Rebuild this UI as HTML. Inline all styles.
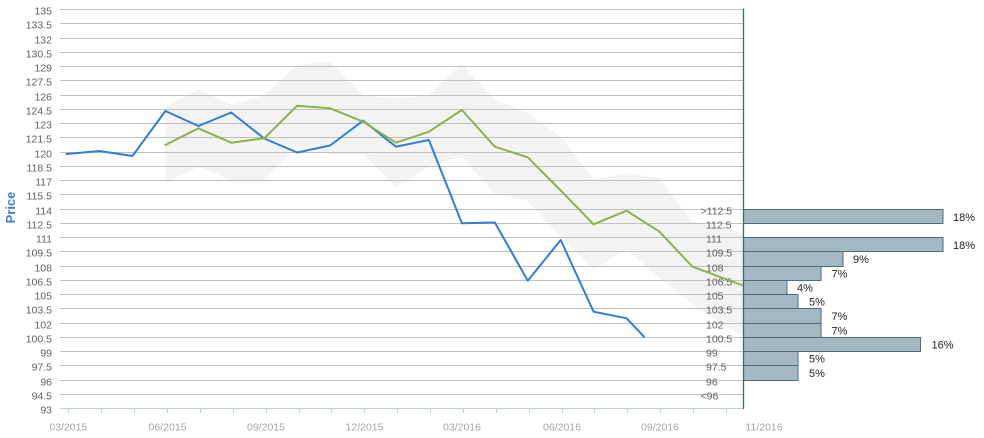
<!DOCTYPE html>
<html><head><meta charset="utf-8">
<style>
html,body{margin:0;padding:0;background:#fff;}
svg{display:block;}
text{font-family:"Liberation Sans",Arial,sans-serif;}
.yl{font-size:10.5px;fill:#606060;text-anchor:end;}
.hl{font-size:10.5px;fill:#606060;}
.xl{font-size:10.5px;fill:#a4a4a4;text-anchor:middle;}
.pl{font-family:"DejaVu Sans",Verdana,sans-serif;font-size:11px;fill:#222;}
</style></head>
<body>
<svg width="984" height="438" viewBox="0 0 984 438" xmlns="http://www.w3.org/2000/svg">
<rect x="0" y="0" width="984" height="438" fill="#fff"/>
<!-- band -->
<polygon fill="#f3f3f3" points="165.4,106.7 198.4,89.3 231.3,105 264.2,95 297.2,65 330.1,61.7 363.1,95 396,98.3 428.9,95 461.9,64 494.8,99.3 527.8,113.3 560.7,136.7 593.6,179.3 626.6,173.3 659.5,178.3 692.5,222 725.4,228.5 743,233 743,336 725.4,326 692.5,304 659.5,278 626.6,249.5 593.6,269.5 560.7,238 527.8,201 494.8,194 461.9,156.7 428.9,166.7 396,186.7 363.1,154 330.1,154 297.2,146.7 264.2,180.7 231.3,180.7 198.4,166.7 165.4,182.7"/>
<!-- gridlines -->
<g stroke="#c0c0c0" stroke-width="1">
<line x1="60" x2="743" y1="9.5" y2="9.5"/>
<line x1="60" x2="743" y1="23.5" y2="23.5"/>
<line x1="60" x2="743" y1="38.5" y2="38.5"/>
<line x1="60" x2="743" y1="52.5" y2="52.5"/>
<line x1="60" x2="743" y1="66.5" y2="66.5"/>
<line x1="60" x2="743" y1="80.5" y2="80.5"/>
<line x1="60" x2="743" y1="95.5" y2="95.5"/>
<line x1="60" x2="743" y1="109.5" y2="109.5"/>
<line x1="60" x2="743" y1="123.5" y2="123.5"/>
<line x1="60" x2="743" y1="137.5" y2="137.5"/>
<line x1="60" x2="743" y1="152.5" y2="152.5"/>
<line x1="60" x2="743" y1="166.5" y2="166.5"/>
<line x1="60" x2="743" y1="180.5" y2="180.5"/>
<line x1="60" x2="743" y1="194.5" y2="194.5"/>
<line x1="60" x2="743" y1="209.5" y2="209.5"/>
<line x1="60" x2="743" y1="223.5" y2="223.5"/>
<line x1="60" x2="743" y1="237.5" y2="237.5"/>
<line x1="60" x2="743" y1="251.5" y2="251.5"/>
<line x1="60" x2="743" y1="266.5" y2="266.5"/>
<line x1="60" x2="743" y1="280.5" y2="280.5"/>
<line x1="60" x2="743" y1="294.5" y2="294.5"/>
<line x1="60" x2="743" y1="308.5" y2="308.5"/>
<line x1="60" x2="743" y1="323.5" y2="323.5"/>
<line x1="60" x2="743" y1="337.5" y2="337.5"/>
<line x1="60" x2="743" y1="351.5" y2="351.5"/>
<line x1="60" x2="743" y1="365.5" y2="365.5"/>
<line x1="60" x2="743" y1="380.5" y2="380.5"/>
<line x1="60" x2="743" y1="394.5" y2="394.5"/>
</g>
<!-- x axis -->
<line x1="60" x2="743" y1="408.5" y2="408.5" stroke="#c0d0e0" stroke-width="1"/>
<g stroke="#c0d0e0" stroke-width="1">
<line x1="68.5" x2="68.5" y1="409" y2="413"/>
<line x1="101.5" x2="101.5" y1="409" y2="413"/>
<line x1="134.5" x2="134.5" y1="409" y2="413"/>
<line x1="167.5" x2="167.5" y1="409" y2="413"/>
<line x1="200.5" x2="200.5" y1="409" y2="413"/>
<line x1="233.5" x2="233.5" y1="409" y2="413"/>
<line x1="266.5" x2="266.5" y1="409" y2="413"/>
<line x1="299.5" x2="299.5" y1="409" y2="413"/>
<line x1="331.5" x2="331.5" y1="409" y2="413"/>
<line x1="364.5" x2="364.5" y1="409" y2="413"/>
<line x1="397.5" x2="397.5" y1="409" y2="413"/>
<line x1="430.5" x2="430.5" y1="409" y2="413"/>
<line x1="463.5" x2="463.5" y1="409" y2="413"/>
<line x1="496.5" x2="496.5" y1="409" y2="413"/>
<line x1="529.5" x2="529.5" y1="409" y2="413"/>
<line x1="562.5" x2="562.5" y1="409" y2="413"/>
<line x1="594.5" x2="594.5" y1="409" y2="413"/>
<line x1="627.5" x2="627.5" y1="409" y2="413"/>
<line x1="660.5" x2="660.5" y1="409" y2="413"/>
<line x1="693.5" x2="693.5" y1="409" y2="413"/>
<line x1="726.5" x2="726.5" y1="409" y2="413"/>
</g>
<!-- y labels -->
<g class="yl">
<text x="52" y="14.5">135</text>
<text x="52" y="28.5">133.5</text>
<text x="52" y="43.5">132</text>
<text x="52" y="57.5">130.5</text>
<text x="52" y="71.5">129</text>
<text x="52" y="85.5">127.5</text>
<text x="52" y="100.5">126</text>
<text x="52" y="114.5">124.5</text>
<text x="52" y="128.5">123</text>
<text x="52" y="142.5">121.5</text>
<text x="52" y="157.5">120</text>
<text x="52" y="171.5">118.5</text>
<text x="52" y="185.5">117</text>
<text x="52" y="199.5">115.5</text>
<text x="52" y="214.5">114</text>
<text x="52" y="228.5">112.5</text>
<text x="52" y="242.5">111</text>
<text x="52" y="256.5">109.5</text>
<text x="52" y="271.5">108</text>
<text x="52" y="285.5">106.5</text>
<text x="52" y="299.5">105</text>
<text x="52" y="313.5">103.5</text>
<text x="52" y="328.5">102</text>
<text x="52" y="342.5">100.5</text>
<text x="52" y="356.5">99</text>
<text x="52" y="370.5">97.5</text>
<text x="52" y="385.5">96</text>
<text x="52" y="399.5">94.5</text>
<text x="52" y="413.5">93</text>
</g>
<!-- x labels -->
<g class="xl">
<text x="68.3" y="430.5">03/2015</text>
<text x="167.5" y="430.5">06/2015</text>
<text x="266" y="430.5">09/2015</text>
<text x="364.5" y="430.5">12/2015</text>
<text x="462" y="430.5">03/2016</text>
<text x="562" y="430.5">06/2016</text>
<text x="660" y="430.5">09/2016</text>
<text x="764" y="430.5">11/2016</text>
</g>
<!-- Price title -->
<text transform="translate(15,207.5) rotate(-90)" text-anchor="middle" style="font-size:13px;font-weight:bold;fill:#3e7fd9;">Price</text>
<!-- histogram labels -->
<g class="hl">
<text x="700.5" y="214.5">&gt;112.5</text>
<text x="706" y="228.5">112.5</text>
<text x="706" y="242.5">111</text>
<text x="706" y="256.5">109.5</text>
<text x="706" y="271.5">108</text>
<text x="706" y="285.5">106.5</text>
<text x="706" y="299.5">105</text>
<text x="706" y="313.5">103.5</text>
<text x="706" y="328.5">102</text>
<text x="706" y="342.5">100.5</text>
<text x="706" y="356.5">99</text>
<text x="706" y="370.5">97.5</text>
<text x="706" y="385.5">96</text>
<text x="700.5" y="399.5">&lt;96</text>
</g>
<!-- series -->
<polyline fill="none" stroke="#2e7fd9" stroke-width="2" stroke-linejoin="round" stroke-linecap="round" points="66.6,154 99.5,151 132.5,156 165.4,111 198.4,126 231.3,112.5 264.2,138.5 297.2,152.5 330.1,145.5 363.1,120.7 396,146.7 428.9,140 461.9,223.3 494.8,222.5 527.8,280.7 560.7,240 593.6,311.7 626.6,318.3 644,336.7"/>
<polyline fill="none" stroke="#8db24a" stroke-width="2" stroke-linejoin="round" stroke-linecap="round" points="165.4,145 198.4,128.3 231.3,142.7 264.2,138.3 297.2,105.7 330.1,108.3 363.1,121.7 396,142.7 428.9,131.7 461.9,110 494.8,146.7 527.8,157.3 560.7,190.5 593.6,224.3 626.6,210.7 659.5,231.7 692.5,266.7 743,285.5"/>
<!-- histogram bars -->
<g fill="#a3b8c3" stroke="#4b6d7a" stroke-width="1">
<rect x="743.5" y="209.5" width="199.5" height="14"/>
<rect x="743.5" y="237.5" width="199.5" height="14"/>
<rect x="743.5" y="251.5" width="99.5" height="15"/>
<rect x="743.5" y="266.5" width="77.5" height="14"/>
<rect x="743.5" y="280.5" width="43.5" height="14"/>
<rect x="743.5" y="294.5" width="54.5" height="14"/>
<rect x="743.5" y="308.5" width="77.5" height="15"/>
<rect x="743.5" y="323.5" width="77.5" height="14"/>
<rect x="743.5" y="337.5" width="177" height="14"/>
<rect x="743.5" y="351.5" width="54.5" height="14"/>
<rect x="743.5" y="365.5" width="54.5" height="15"/>
</g>
<g class="pl">
<text x="953" y="221">18%</text>
<text x="953" y="249">18%</text>
<text x="853" y="263">9%</text>
<text x="831.5" y="277.5">7%</text>
<text x="797" y="291.5">4%</text>
<text x="809" y="305.5">5%</text>
<text x="831.5" y="320">7%</text>
<text x="831.5" y="334.5">7%</text>
<text x="931.5" y="348.5">16%</text>
<text x="809" y="362.5">5%</text>
<text x="809" y="377">5%</text>
</g>
<!-- histogram vertical axis -->
<line x1="743.5" x2="743.5" y1="8.5" y2="409" stroke="#456570" stroke-width="1.3"/>
</svg>
</body></html>
